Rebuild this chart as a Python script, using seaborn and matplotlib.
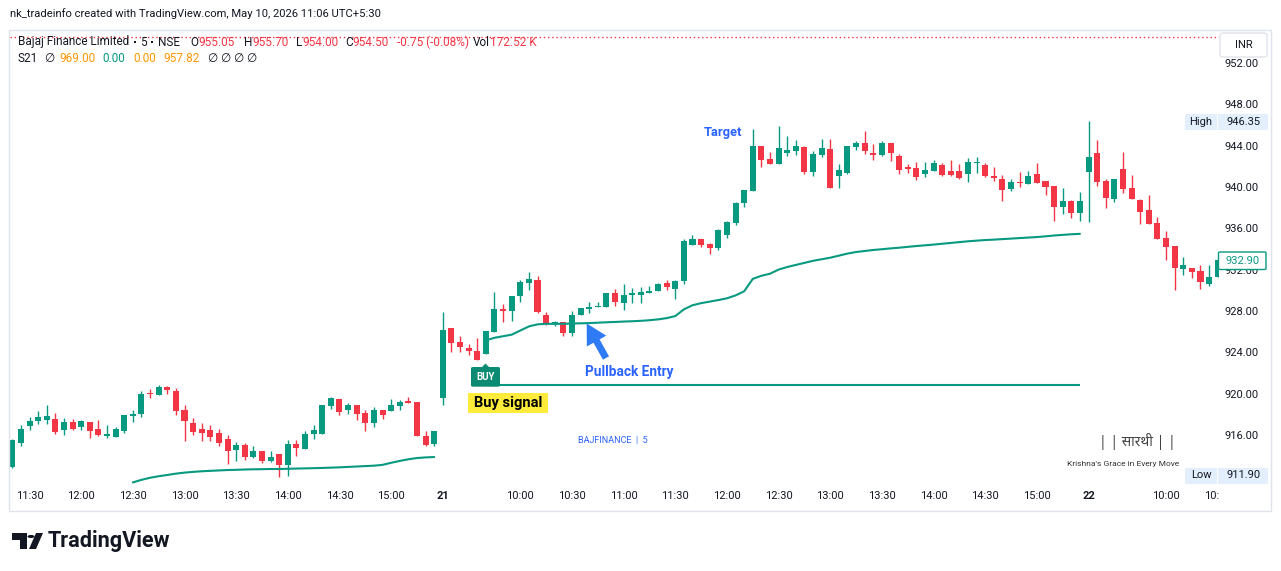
import matplotlib
matplotlib.use("Agg")
import matplotlib.pyplot as plt
import seaborn as sns
import numpy as np
import pandas as pd
from matplotlib.patches import Rectangle, FancyBboxPatch, Polygon, FancyArrowPatch, Circle

# ---------------- data ----------------
opens = [912.9, 915.2, 916.9, 917.3, 917.45, 917.55, 916.5, 917.25, 916.75, 917.25,
         916.55, 915.9, 915.8, 916.4, 917.85, 918.0, 920.05, 919.85, 920.6, 920.25,
         918.4, 917.15, 916.55, 916.45, 916.2, 915.6, 914.55, 915.0, 913.85, 914.45,
         913.45, 914.15, 913.1, 915.1, 914.65, 916.1, 916.1, 918.8, 919.45, 918.4,
         918.9, 918.1, 917.15, 918.4, 918.3, 918.8, 919.3, 919.2, 915.9, 915.1,
         919.6, 926.35, 925.0, 924.4, 924.15, 923.85, 926.0, 928.15, 928.0, 929.4,
         930.7, 931.0, 927.65, 926.85, 926.95, 925.9, 927.6, 928.2, 928.4, 928.4,
         929.7, 928.8, 929.55, 929.55, 929.75, 929.95, 930.75, 930.1, 930.85, 934.4,
         934.95, 934.5, 934.1, 935.3, 936.5, 938.4, 939.65, 943.95, 942.7, 942.2,
         943.3, 943.5, 943.9, 941.45, 943.1, 943.7, 941.1, 941.35, 943.9, 944.25,
         943.3, 943.1, 944.25, 943.0, 941.95, 941.85, 941.25, 941.55, 942.15, 941.55,
         941.55, 941.25, 942.35, 942.1, 941.05, 940.75, 939.8, 940.5, 940.3, 941.25,
         940.6, 940.1, 938.05, 938.65, 937.5, 941.45, 943.3, 940.6, 938.85, 941.75,
         939.9, 938.75, 937.75, 936.5, 935.05, 934.3, 932.05, 932.15, 931.85, 930.6,
         931.3]
highs = [915.6, 917.0, 917.75, 918.3, 918.9, 918.1, 917.65, 917.55, 917.45, 917.25,
         917.45, 916.95, 916.75, 917.95, 918.4, 920.25, 920.4, 920.85, 920.7, 920.5,
         918.9, 917.6, 917.15, 916.95, 916.6, 916.0, 915.3, 915.2, 914.9, 914.45,
         914.45, 914.15, 915.5, 915.5, 916.4, 916.95, 918.9, 919.65, 919.5, 919.1,
         918.9, 918.4, 918.7, 918.4, 919.45, 919.4, 919.65, 919.2, 916.4, 916.4,
         927.9, 926.35, 925.55, 924.75, 925.35, 926.1, 929.8, 928.65, 929.45, 931.0,
         931.75, 931.4, 927.85, 927.0, 926.95, 927.95, 928.3, 928.85, 928.85, 929.75,
         930.1, 930.65, 930.2, 930.35, 930.4, 930.7, 930.95, 930.95, 934.95, 935.35,
         934.95, 934.6, 935.95, 936.7, 938.5, 939.75, 945.6, 943.95, 943.4, 945.9,
         944.95, 944.55, 943.95, 943.5, 944.65, 944.65, 942.2, 944.0, 944.45, 945.4,
         944.15, 944.45, 944.3, 943.2, 942.2, 942.4, 942.4, 942.6, 942.3, 942.6,
         942.2, 942.8, 942.9, 942.3, 941.95, 941.15, 940.75, 941.45, 941.55, 942.3,
         940.6, 940.1, 939.9, 938.75, 939.5, 946.35, 944.55, 940.75, 940.8, 943.4,
         941.15, 938.8, 939.2, 937.1, 935.75, 934.3, 933.2, 932.2, 932.45, 932.45,
         933.0]
lows = [912.8, 914.95, 916.5, 917.05, 917.05, 916.1, 916.0, 916.45, 916.45, 915.7,
        915.9, 915.7, 915.8, 916.2, 917.25, 917.75, 919.6, 919.85, 920.0, 917.95,
        915.45, 916.0, 915.45, 915.4, 914.95, 913.2, 913.5, 913.55, 913.75, 913.3,
        913.35, 911.9, 912.0, 913.95, 914.65, 915.6, 916.1, 918.5, 917.95, 918.0,
        917.45, 916.4, 916.75, 917.55, 918.3, 918.4, 919.1, 915.9, 914.9, 914.9,
        918.9, 924.05, 924.05, 923.75, 923.25, 923.8, 926.0, 926.95, 927.0, 928.9,
        930.05, 927.8, 926.65, 926.5, 925.55, 925.55, 927.6, 927.75, 928.35, 928.4,
        928.5, 928.1, 928.8, 928.8, 929.7, 929.95, 930.05, 929.2, 930.65, 934.4,
        934.15, 933.55, 933.85, 935.1, 936.3, 938.1, 939.6, 941.95, 942.2, 942.2,
        943.0, 943.1, 941.25, 941.05, 942.85, 939.9, 939.9, 941.3, 943.6, 943.2,
        942.6, 943.0, 942.5, 941.25, 941.35, 940.65, 940.95, 941.5, 941.05, 941.05,
        940.75, 940.5, 941.35, 940.95, 940.6, 938.65, 939.6, 940.0, 940.3, 940.35,
        939.2, 936.7, 937.4, 937.0, 936.7, 936.6, 940.1, 937.95, 938.55, 939.4,
        938.8, 936.4, 936.4, 934.95, 932.9, 930.05, 931.5, 931.2, 930.1, 930.4,
        931.3]
closes = [915.5, 916.6, 917.35, 917.75, 917.85, 916.3, 917.25, 916.6, 917.35, 916.4,
          916.0, 916.1, 916.55, 917.95, 918.0, 919.95, 919.95, 920.6, 920.3, 918.35,
          917.3, 916.3, 916.2, 915.8, 915.2, 914.45, 915.0, 913.85, 914.45, 913.45,
          913.85, 913.1, 915.1, 914.75, 916.1, 916.45, 918.9, 919.55, 918.2, 918.9,
          918.0, 917.15, 918.4, 917.95, 918.9, 919.2, 919.1, 915.9, 915.0, 916.4,
          926.15, 924.9, 924.5, 924.15, 923.25, 926.05, 928.15, 928.0, 929.4, 930.8,
          931.1, 927.85, 926.85, 926.9, 925.9, 927.6, 928.25, 928.35, 928.5, 929.7,
          928.9, 929.5, 929.7, 929.85, 929.95, 930.65, 930.3, 930.9, 934.75, 934.95,
          934.4, 934.1, 935.85, 936.6, 938.45, 939.7, 943.95, 942.6, 942.2, 943.75,
          943.6, 943.95, 941.45, 943.2, 943.75, 939.9, 941.65, 943.95, 944.25, 943.5,
          943.1, 944.25, 943.3, 941.65, 941.75, 940.95, 941.65, 942.3, 941.15, 941.15,
          940.85, 942.4, 942.4, 941.05, 940.85, 939.7, 940.5, 940.35, 941.05, 940.4,
          940.0, 938.05, 938.65, 937.5, 938.65, 942.9, 940.5, 938.95, 940.75, 939.8,
          938.85, 937.6, 936.4, 934.95, 934.2, 932.15, 932.45, 931.75, 930.8, 931.3,
          932.9]

# S21 indicator line, day 1 (starts at bar 14) and day 2 (starts at bar 55)
s21_day1 = [911.4, 911.65, 911.85, 912.0, 912.12, 912.25, 912.35, 912.42, 912.48, 912.52,
            912.56, 912.6, 912.62, 912.65, 912.67, 912.68, 912.7, 912.7, 912.72, 912.74,
            912.76, 912.78, 912.8, 912.83, 912.86, 912.9, 912.94, 912.98, 913.02, 913.1,
            913.3, 913.48, 913.64, 913.76, 913.82, 913.86]
s21_day2 = [925.15, 925.4, 925.55, 925.7, 926.1, 926.5, 926.7, 926.75, 926.75, 926.75,
            926.78, 926.8, 926.82, 926.86, 926.9, 926.93, 926.97, 927.0, 927.04, 927.1,
            927.18, 927.3, 927.5, 928.15, 928.55, 928.75, 928.9, 929.05, 929.22, 929.5,
            929.9, 931.1, 931.4, 931.6, 932.0, 932.25, 932.45, 932.65, 932.85, 933.0,
            933.15, 933.35, 933.55, 933.7, 933.8, 933.9, 933.97, 934.05, 934.12, 934.2,
            934.28, 934.35, 934.42, 934.5, 934.58, 934.66, 934.74, 934.8, 934.86, 934.9,
            934.95, 935.0, 935.05, 935.1, 935.15, 935.22, 935.3, 935.36, 935.42, 935.46]
s21_day1_start = 14
s21_day2_start = 55
buy_level = 920.85
buy_level_end = 124
last_price = 932.90
price_line = 954.50
price_ticks = [916, 920, 924, 928, 932, 936, 940, 944, 948, 952]

bar_times = pd.DatetimeIndex(
    list(pd.date_range("2026-04-20 11:20", "2026-04-20 15:25", freq="5min")) +
    list(pd.date_range("2026-04-21 09:15", "2026-04-21 15:25", freq="5min")) +
    list(pd.date_range("2026-04-22 09:15", "2026-04-22 10:30", freq="5min")))
tick_stamps = (list(pd.date_range("2026-04-20 11:30", "2026-04-20 15:00", freq="30min")) +
               [pd.Timestamp("2026-04-21 09:15")] +
               list(pd.date_range("2026-04-21 10:00", "2026-04-21 15:00", freq="30min")) +
               [pd.Timestamp("2026-04-22 09:15")] +
               list(pd.date_range("2026-04-22 10:00", "2026-04-22 10:30", freq="30min")))

# ---------------- style ----------------
GREEN = "#089981"
RED = "#f23645"
ORANGE = "#ff9800"
BLUE = "#2962ff"
TXT = "#131722"

sns.set_theme(style="white")
plt.rcParams["font.family"] = ["Roboto", "DejaVu Sans"]

W, H = 1281, 571
fig = plt.figure(figsize=(W / 100, H / 100), dpi=100)
fig.patch.set_facecolor("white")


def fx(x):
    return x / W


def fy(y):
    return 1 - y / H


ax = fig.add_axes([fx(10), fy(485), 1209 / W, 455 / H])
ax.set_facecolor("white")

o = np.array(opens); hi = np.array(highs); lo = np.array(lows); c = np.array(closes)
xi = np.arange(len(o))
cols = np.where(c >= o, GREEN, RED)
ax.vlines(xi, lo, hi, colors=cols, lw=1, zorder=2)
ax.bar(xi, np.maximum(np.abs(c - o), 0.08), bottom=np.minimum(o, c), width=0.7,
       color=cols, linewidth=0, zorder=3)

sns.lineplot(x=np.arange(s21_day1_start, s21_day1_start + len(s21_day1)), y=s21_day1,
             ax=ax, color=GREEN, lw=1.5, zorder=4, legend=False)
sns.lineplot(x=np.arange(s21_day2_start, s21_day2_start + len(s21_day2)), y=s21_day2,
             ax=ax, color=GREEN, lw=1.5, zorder=4, legend=False)
ax.hlines(buy_level, s21_day2_start, buy_level_end, color=GREEN, lw=1.5, zorder=4)
ax.axhline(price_line, color=RED, lw=1, ls=(0, (1, 2)), zorder=1)

ax.set_xlim(-0.267, 140.15)
ax.set_ylim(911.15, 955.19)
ax.set_yticks(price_ticks)
ax.set_yticklabels([f"{v:.2f}" for v in price_ticks])
ax.yaxis.tick_right()
tick_pos = [bar_times.get_loc(t) for t in tick_stamps]
tick_lab = [str(t.day) if t.strftime("%H:%M") == "09:15" else t.strftime("%H:%M")
            for t in tick_stamps]
ax.set_xticks(tick_pos)
ax.set_xticklabels(tick_lab)
for t in ax.get_xticklabels():
    if len(t.get_text()) <= 2:
        t.set_fontweight("bold")
ax.tick_params(axis="both", length=0, labelsize=8, colors=TXT)
ax.tick_params(axis="y", pad=4.3)
ax.tick_params(axis="x", pad=4.3)
for s in ax.spines.values():
    s.set_visible(False)
ax.grid(False)
ax.set_xlabel("")
ax.set_ylabel("")


def frect(x0, y0, x1, y1, **kw):
    p = Rectangle((fx(x0), fy(y1)), (x1 - x0) / W, (y1 - y0) / H,
                  transform=fig.transFigure, **kw)
    fig.patches.append(p)
    return p


def fbox(x0, y0, x1, y1, pad=2, **kw):
    p = FancyBboxPatch((fx(x0), fy(y1)), (x1 - x0) / W, (y1 - y0) / H,
                       boxstyle=f"round,pad=0,rounding_size={pad / W}",
                       transform=fig.transFigure, **kw)
    fig.patches.append(p)
    return p


# clip right end of time axis & frame
frect(1219, 486, 1270, 510, facecolor="white", edgecolor="none", zorder=10)
frect(9, 30, 1271, 511, facecolor="none", edgecolor="#e0e3eb", lw=1, zorder=11)

# header
fig.text(fx(10), fy(14), "nk_tradeinfo created with TradingView.com, May 10, 2026 11:06 UTC+5:30",
         fontsize=8.1, color=TXT, va="center", ha="left")

renderer = fig.canvas.get_renderer()


def group(x, y, segs, size=8.5):
    for s, col in segs:
        t = fig.text(fx(x), fy(y), s, color=col, fontsize=size, va="center", ha="left", zorder=12)
        x += t.get_window_extent(renderer=renderer).width


# legend line 1 (segment starts)
group(18, 42, [("Bajaj Finance Limited", TXT)])
for xd in (135, 152):
    frect(xd - 1, 41, xd + 1, 43, facecolor=TXT, edgecolor="none", zorder=12)
group(140.5, 42, [("5", TXT)])
group(158, 42, [("NSE", TXT)])
group(190, 42, [("O", TXT), ("955.05", RED)])
group(244, 42, [("H", TXT), ("955.70", RED)])
group(296, 42, [("L", TXT), ("954.00", RED)])
group(345, 42, [("C", TXT), ("954.50", RED)])
group(397, 42, [("-0.75 (-0.08%)", RED)])
group(473, 42, [("Vol", TXT), ("172.52 K", RED)])
# legend line 2
group(18, 58, [("S21", TXT)])
group(44, 58, [("∅", TXT)])
group(59, 58, [("969.00", ORANGE)])
group(102, 58, [("0.00", GREEN)])
group(133, 58, [("0.00", ORANGE)])
group(163, 58, [("957.82", ORANGE)])
for xs in (207, 220, 233, 246):
    group(xs, 58, [("∅", TXT)])

# right-axis labels
fbox(1220, 33, 1267, 57, pad=4, facecolor="white", edgecolor="#e0e3eb", lw=1, zorder=12)
fig.text(fx(1243.5), fy(45), "INR", fontsize=8, color=TXT, ha="center", va="center", zorder=13)
for yy, lab, val in [(122, "High", "946.35"), (475.5, "Low", "911.90")]:
    frect(1185, yy - 8, 1216.5, yy + 8, facecolor="#e3effd", edgecolor="none", zorder=12)
    frect(1218, yy - 8, 1267.5, yy + 8, facecolor="#e3effd", edgecolor="none", zorder=12)
    fig.text(fx(1201), fy(yy), lab, fontsize=8, color=TXT, ha="center", va="center", zorder=13)
    fig.text(fx(1243.5), fy(yy), val, fontsize=8, color=TXT, ha="center", va="center", zorder=13)
fbox(1218.5, 252, 1266, 269.5, pad=2, facecolor="white", edgecolor=GREEN, lw=1, zorder=12)
fig.text(fx(1242.5), fy(261), f"{last_price:.2f}", fontsize=8, color=GREEN, ha="center",
         va="center", zorder=13)

# BUY label
fig.patches.append(Polygon([[fx(482), fy(367)], [fx(485.5), fy(363.5)], [fx(489), fy(367)]],
                           closed=True, transform=fig.transFigure, facecolor="#0b8a74",
                           edgecolor="none", zorder=12))
fbox(471, 367, 500, 386.7, pad=2.5, facecolor="#0b8a74", edgecolor="none", zorder=12)
fig.text(fx(485.5), fy(377), "BUY", fontsize=7, color="white", fontweight="bold",
         ha="center", va="center", zorder=13)

frect(467.7, 392.7, 548.3, 412.7, facecolor="#ffeb3b", edgecolor="none", zorder=12)
fig.text(fx(508), fy(403), "Buy signal", fontsize=10.5, color="black", fontweight="bold",
         ha="center", va="center", zorder=13)

fig.text(fx(629.5), fy(372), "Pullback Entry", fontsize=9.8, color=BLUE, fontweight="bold",
         ha="center", va="center", zorder=13)
fig.text(fx(722.5), fy(132.5), "Target", fontsize=9.3, color=BLUE, fontweight="bold",
         ha="center", va="center", zorder=13)

arr = FancyArrowPatch((fx(606), fy(358)), (fx(586.7), fy(323.5)), transform=fig.transFigure,
                      arrowstyle="simple,head_length=14.5,head_width=16,tail_width=5",
                      mutation_scale=1, shrinkA=0, shrinkB=0, color="#2f7af5", lw=0, zorder=12)
fig.patches.append(arr)

fig.text(fx(613), fy(440.5), "BAJFINANCE  |  5", fontsize=6.5, color=BLUE, ha="center",
         va="center", zorder=13)
fig.text(fx(1137), fy(442), "| | सारथी | |", fontsize=10, color="#444444", ha="center",
         va="center", zorder=13, family=["Noto Sans", "DejaVu Sans"])
fig.text(fx(1123), fy(464), "Krishna's Grace in Every Move", fontsize=6, color="#333333",
         ha="center", va="center", zorder=13)

# TradingView logo
k = "#131722"
fig.patches.append(Polygon([[fx(12), fy(533)], [fx(27), fy(533)], [fx(27), fy(549)],
                            [fx(20), fy(549)], [fx(20), fy(540)], [fx(12), fy(540)]],
                           closed=True, transform=fig.transFigure, facecolor=k, edgecolor="none",
                           zorder=12))
fig.patches.append(Circle((fx(31), fy(536.5)), 3.5 / W, transform=fig.transFigure, facecolor=k,
                          edgecolor="none", zorder=12))
fig.patches.append(Polygon([[fx(29), fy(549)], [fx(36), fy(533)], [fx(43), fy(533)],
                            [fx(36), fy(549)]], closed=True, transform=fig.transFigure,
                           facecolor=k, edgecolor="none", zorder=12))
fig.text(fx(48), fy(541.5), "TradingView", fontsize=15.6, color=k, fontweight="bold",
         ha="left", va="center", zorder=13)

fig.savefig("out.png", dpi=100, facecolor="white")
